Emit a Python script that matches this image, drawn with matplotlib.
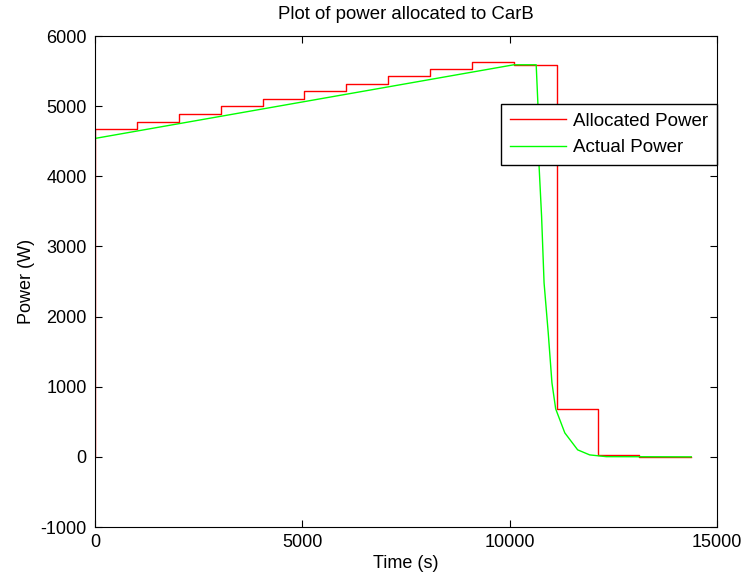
import matplotlib
matplotlib.use('Agg')
import matplotlib.pyplot as plt

# 데이터
alloc_time = [0, 0, 1010, 2020, 3030, 4040, 5050, 6060, 7070, 8080, 9090,
              10100, 11130, 12130, 13130, 14380]
alloc_power = [0, 4670, 4780, 4890, 5000, 5100, 5210, 5320, 5430, 5530, 5630,
               5590, 680, 28, 5, 5]

actual_time = [0, 0, 10100, 10640, 10680, 10710, 10770, 10830, 10930, 11020,
               11110, 11330, 11640, 11930, 12330, 14380]
actual_power = [0, 4540, 5590, 5590, 5050, 4140, 3430, 2480, 1770, 1055,
                684, 342, 100, 28, 3, 0]

x_ticks = [0, 5000, 10000, 15000]
y_ticks = [-1000, 0, 1000, 2000, 3000, 4000, 5000, 6000]

plt.rcParams['font.family'] = ['Liberation Sans', 'DejaVu Sans']
plt.rcParams['axes.unicode_minus'] = False

fig = plt.figure(figsize=(7.45, 5.82), dpi=100)
ax = fig.add_axes([0.1275, 0.0945, 0.8349, 0.8436])

ax.step(alloc_time, alloc_power, where='post', color='#ff0000', lw=1,
        label='Allocated Power')
ax.plot(actual_time, actual_power, color='#00ff00', lw=1, label='Actual Power')

ax.set_xlim(0, 15000)
ax.set_ylim(-1000, 6000)
ax.set_xticks(x_ticks)
ax.set_yticks(y_ticks)
ax.tick_params(direction='in', length=5, top=True, right=True, labelsize=13)
ax.tick_params(axis='y', pad=6)
ax.tick_params(axis='x', pad=5)

ax.set_title('Plot of power allocated to CarB', fontsize=13.4, pad=12)
ax.set_xlabel('Time (s)', fontsize=13, labelpad=3)
ax.set_ylabel('Power (W)', fontsize=13, labelpad=4)

leg = ax.legend(loc='upper right', bbox_to_anchor=(1.0, 0.8615),
                borderaxespad=0, fontsize=13.5, handlelength=3.0,
                handletextpad=0.4, borderpad=0.45,
                fancybox=False, edgecolor='black', framealpha=1)
leg.get_frame().set_linewidth(1)

fig.savefig('out.png', dpi=100)
